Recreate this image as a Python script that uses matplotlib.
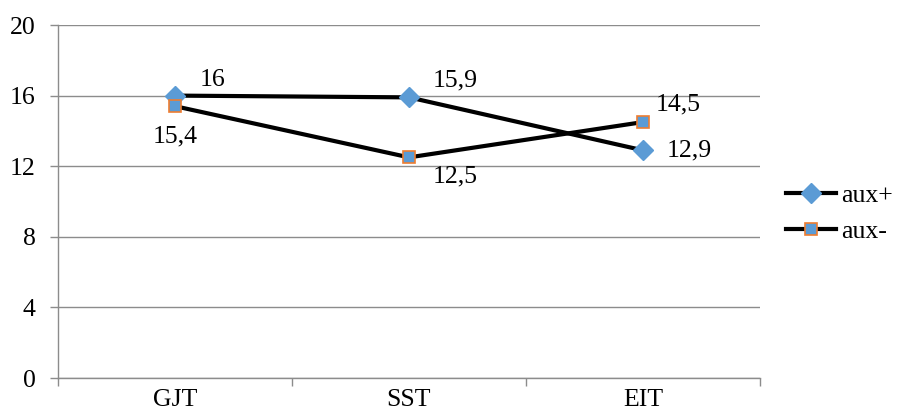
import matplotlib.pyplot as plt
from matplotlib.lines import Line2D

categories = ["GJT", "SST", "EIT"]
aux_plus = [16, 15.9, 12.9]
aux_minus = [15.4, 12.5, 14.5]
series_names = ["aux+", "aux-"]

plt.rcParams['font.family'] = ['Liberation Serif', 'DejaVu Serif']
FS = 18.5

fig = plt.figure(figsize=(8.99, 4.19), dpi=100)
ax = fig.add_axes([58 / 899, 41 / 419, 702 / 899, 353 / 419])

x = list(range(len(categories)))
blue = '#5B9BD5'
orange = '#ED7D31'

ax.plot(x, aux_plus, color='black', lw=3, marker='D', ms=10.5,
        mfc=blue, mec=blue, zorder=3)
ax.plot(x, aux_minus, color='black', lw=3, marker='s', ms=8,
        mfc=blue, mec=orange, mew=1.2, zorder=3)

def fmt(v):
    return f"{v:g}".replace('.', ',')

# data label offsets in points, (dx, dy, ha)
plus_offsets = [(18, 11, 'left'), (17, 12, 'left'), (17, 0, 'left')]
minus_offsets = [(0, -22, 'center'), (17, -14, 'left'), (9, 13, 'left')]
for i, v in enumerate(aux_plus):
    dx, dy, ha = plus_offsets[i]
    ax.annotate(fmt(v), (x[i], v), xytext=(dx, dy), textcoords='offset points',
                ha=ha, va='center', fontsize=FS)
for i, v in enumerate(aux_minus):
    dx, dy, ha = minus_offsets[i]
    ax.annotate(fmt(v), (x[i], v), xytext=(dx, dy), textcoords='offset points',
                ha=ha, va='center', fontsize=FS)

ax.set_xlim(-0.5, len(categories) - 0.5)
ax.set_ylim(0, 20)
ax.set_yticks(range(0, 21, 4))
ax.set_xticks(x)
ax.set_xticklabels(categories)
ax.set_xticks([-0.5, 0.5, 1.5, 2.5], minor=True)
ax.tick_params(axis='x', which='major', length=0, pad=8, labelsize=FS)
ax.tick_params(axis='x', which='minor', length=6, color='#8c8c8c', width=1)
ax.tick_params(axis='y', length=6, color='#8c8c8c', width=1, labelsize=FS, pad=10)

ax.grid(axis='y', color='#8c8c8c', lw=1)
ax.set_axisbelow(True)
for s in ['top', 'right']:
    ax.spines[s].set_visible(False)
for s in ['left', 'bottom']:
    ax.spines[s].set_color('#8c8c8c')
    ax.spines[s].set_linewidth(1)

handles = [
    Line2D([], [], color='black', lw=3, marker='D', ms=10.5, mfc=blue, mec=blue),
    Line2D([], [], color='black', lw=3, marker='s', ms=8, mfc=blue, mec=orange, mew=1.2),
]
fig.legend(handles, series_names, loc='center left', bbox_to_anchor=(0.854, 0.49),
           frameon=False, fontsize=FS, handlelength=1.95, handletextpad=0.2,
           labelspacing=0.5, borderpad=0.2)

fig.savefig('out.png', dpi=100)
